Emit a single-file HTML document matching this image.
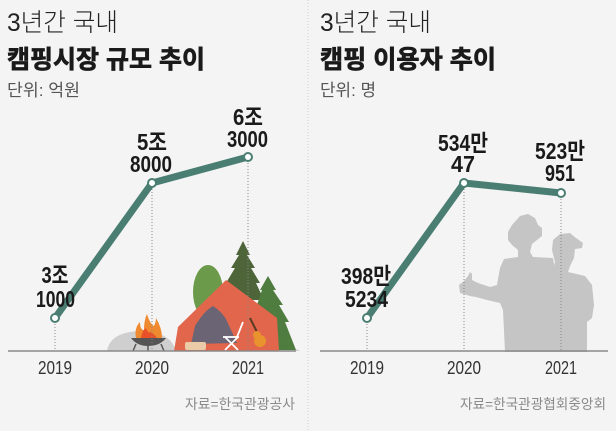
<!DOCTYPE html>
<html><head><meta charset="utf-8">
<style>
html,body{margin:0;padding:0;background:#f4f4f4;}
svg{display:block;}
text{font-family:"Liberation Sans","Noto Sans CJK KR",sans-serif;}
</style></head>
<body>
<svg width="616" height="431" viewBox="0 0 616 431" xmlns="http://www.w3.org/2000/svg">
<rect width="616" height="431" fill="#f4f4f4"/>
<!-- divider -->
<line x1="308" y1="0" x2="308" y2="431" stroke="#cfcfcf" stroke-width="1" stroke-dasharray="1 2"/>

<!-- Titles left -->
<text x="7" y="31" font-size="25" font-weight="300" fill="#222" textLength="111" lengthAdjust="spacingAndGlyphs">3년간 국내</text>
<text x="7" y="68" font-size="25" font-weight="700" fill="#1a1a1a" stroke="#1a1a1a" stroke-width="0.7" textLength="198" lengthAdjust="spacingAndGlyphs">캠핑시장 규모 추이</text>
<text x="7" y="96" font-size="17" fill="#555" textLength="73" lengthAdjust="spacingAndGlyphs">단위: 억원</text>
<!-- Titles right -->
<text x="320" y="31" font-size="25" font-weight="300" fill="#222" textLength="111" lengthAdjust="spacingAndGlyphs">3년간 국내</text>
<text x="320" y="68" font-size="25" font-weight="700" fill="#1a1a1a" stroke="#1a1a1a" stroke-width="0.7" textLength="176" lengthAdjust="spacingAndGlyphs">캠핑 이용자 추이</text>
<text x="320" y="96" font-size="17" fill="#555" textLength="56" lengthAdjust="spacingAndGlyphs">단위: 명</text>

<!-- Left illustration -->
<path d="M107,351 Q110,332 140,331 Q170,331 176,351 Z" fill="#cfcfcf"/>
<path d="M270,351 Q285,343 300,351 Z" fill="#cfcfcf"/>
<polygon points="243,241 250,255 247,255 255,268 251,268 260,283 256,283 264,300 222,300 230,283 226,283 235,268 231,268 239,255 236,255" fill="#4d6538"/>
<polygon points="268,276 276,290 273,290 283,305 279,305 289,322 285,322 296,350 250,350 255,322 252,322 260,305 257,305 262,290 260,290" fill="#4f7c3f"/>
<ellipse cx="208" cy="292" rx="15" ry="27" fill="#6b9a4b"/>
<polygon points="174,351 178,327 226,280 277,318 279,351" fill="#e2664c"/>
<path d="M191,344 L195,326 Q204,311 213,306 Q221,311 226,319 L237,343 Z" fill="#6b6474"/>
<rect x="185" y="342" width="21" height="8" rx="2" fill="#ebcaa8"/>
<g stroke="#fff" stroke-width="1.8" fill="none">
<line x1="223" y1="337" x2="239" y2="337"/>
<line x1="237" y1="337" x2="243" y2="322"/>
<line x1="225" y1="350" x2="238" y2="337"/>
<line x1="238" y1="350" x2="225" y2="337"/>
</g>
<line x1="259" y1="336" x2="250" y2="318" stroke="#5a3a20" stroke-width="2"/>
<circle cx="260" cy="341" r="6" fill="#e8932e"/>
<circle cx="257" cy="335" r="4" fill="#e8932e"/>
<path d="M136,338 Q134,328 140,322 Q140,330 144,330 Q144,320 147,314 Q150,324 154,326 Q156,322 156,318 Q162,328 162,338 Z" fill="#f08a30"/>
<path d="M141,338 Q142,331 146,328 Q148,334 151,332 Q154,334 157,338 Z" fill="#e8502a"/>
<path d="M131,338 L166,338 Q160,346 148,346 Q137,346 131,338 Z" fill="#555"/>
<g stroke="#555" stroke-width="1.5"><line x1="136" y1="344" x2="133" y2="351"/><line x1="161" y1="344" x2="164" y2="351"/><line x1="148" y1="346" x2="148" y2="351"/></g>

<!-- Right silhouette -->
<path d="M505,352 L503,310 L500,303 L487,300 L476,297 L470,296 L460,293 L459,285 L464,281 L468,276 L470,272 L472,274 L472,280 L478,283 L490,287 L497,285 L500,268 L504,259 L518,257 L518,250 L512,245 L508,240 L508,232 L512,225 L520,216 L528,214 L535,218 L538,225 L542,228 L542,236 L537,240 L532,244 L530,252 L533,257 L553,258 L555,270 L555,352 Z" fill="#c5c5c5"/>
<path d="M552,352 L553,270 L555,262 L552,250 L553,240 L560,234 L570,233 L576,238 L583,243 L582,248 L575,249 L574,258 L570,266 L568,272 L585,276 L592,285 L594,305 L592,318 L587,322 L587,352 Z" fill="#c5c5c5"/>

<!-- dotted guides -->
<g stroke="#888" stroke-width="1" stroke-dasharray="1 2">
<line x1="55" y1="318" x2="55" y2="351"/>
<line x1="152" y1="183" x2="152" y2="351"/>
<line x1="248" y1="157" x2="248" y2="351"/>
<line x1="367" y1="318" x2="367" y2="351"/>
<line x1="464" y1="183" x2="464" y2="351"/>
<line x1="561" y1="193" x2="561" y2="351"/>
</g>

<!-- axes -->
<line x1="8" y1="351" x2="296" y2="351" stroke="#8a8a8a" stroke-width="1.5"/>
<line x1="320" y1="351" x2="608" y2="351" stroke="#8a8a8a" stroke-width="1.5"/>

<!-- data lines -->
<polyline points="55,318 152,183 248,157" fill="none" stroke="#4b7e73" stroke-width="7" stroke-linejoin="round"/>
<polyline points="367,318 464,183 561,193" fill="none" stroke="#4b7e73" stroke-width="7" stroke-linejoin="round"/>
<g fill="#fff" stroke="#4b7e73" stroke-width="2">
<circle cx="55" cy="318" r="4"/><circle cx="152" cy="183" r="4"/><circle cx="248" cy="157" r="4"/>
<circle cx="367" cy="318" r="4"/><circle cx="464" cy="183" r="4"/><circle cx="561" cy="193" r="4"/>
</g>

<!-- value labels -->
<g font-size="23" font-weight="700" fill="#1a1a1a" text-anchor="middle">
<text x="55" y="283" textLength="27" lengthAdjust="spacingAndGlyphs">3조</text>
<text x="55.5" y="307" textLength="39" lengthAdjust="spacingAndGlyphs">1000</text>
<text x="152" y="150" textLength="30" lengthAdjust="spacingAndGlyphs">5조</text>
<text x="151" y="172" textLength="42" lengthAdjust="spacingAndGlyphs">8000</text>
<text x="248" y="125" textLength="30" lengthAdjust="spacingAndGlyphs">6조</text>
<text x="247.5" y="147" textLength="41" lengthAdjust="spacingAndGlyphs">3000</text>
<text x="366" y="284" textLength="50" lengthAdjust="spacingAndGlyphs">398만</text>
<text x="366.5" y="307" textLength="43" lengthAdjust="spacingAndGlyphs">5234</text>
<text x="463" y="151" textLength="50" lengthAdjust="spacingAndGlyphs">534만</text>
<text x="463" y="172" textLength="24" lengthAdjust="spacingAndGlyphs">47</text>
<text x="560" y="159" textLength="50" lengthAdjust="spacingAndGlyphs">523만</text>
<text x="560" y="181" textLength="30" lengthAdjust="spacingAndGlyphs">951</text>
</g>

<!-- year labels -->
<g font-size="18" fill="#333" text-anchor="middle">
<text x="55" y="374" textLength="34" lengthAdjust="spacingAndGlyphs">2019</text>
<text x="152" y="374" textLength="34" lengthAdjust="spacingAndGlyphs">2020</text>
<text x="248" y="374" textLength="32" lengthAdjust="spacingAndGlyphs">2021</text>
<text x="367" y="374" textLength="34" lengthAdjust="spacingAndGlyphs">2019</text>
<text x="464" y="374" textLength="34" lengthAdjust="spacingAndGlyphs">2020</text>
<text x="561" y="374" textLength="32" lengthAdjust="spacingAndGlyphs">2021</text>
</g>

<!-- sources -->
<text x="295" y="409" font-size="14" fill="#8a8a8a" text-anchor="end" textLength="110" lengthAdjust="spacingAndGlyphs">자료=한국관광공사</text>
<text x="606" y="409" font-size="14" fill="#8a8a8a" text-anchor="end" textLength="146" lengthAdjust="spacingAndGlyphs">자료=한국관광협회중앙회</text>
</svg>
</body></html>
